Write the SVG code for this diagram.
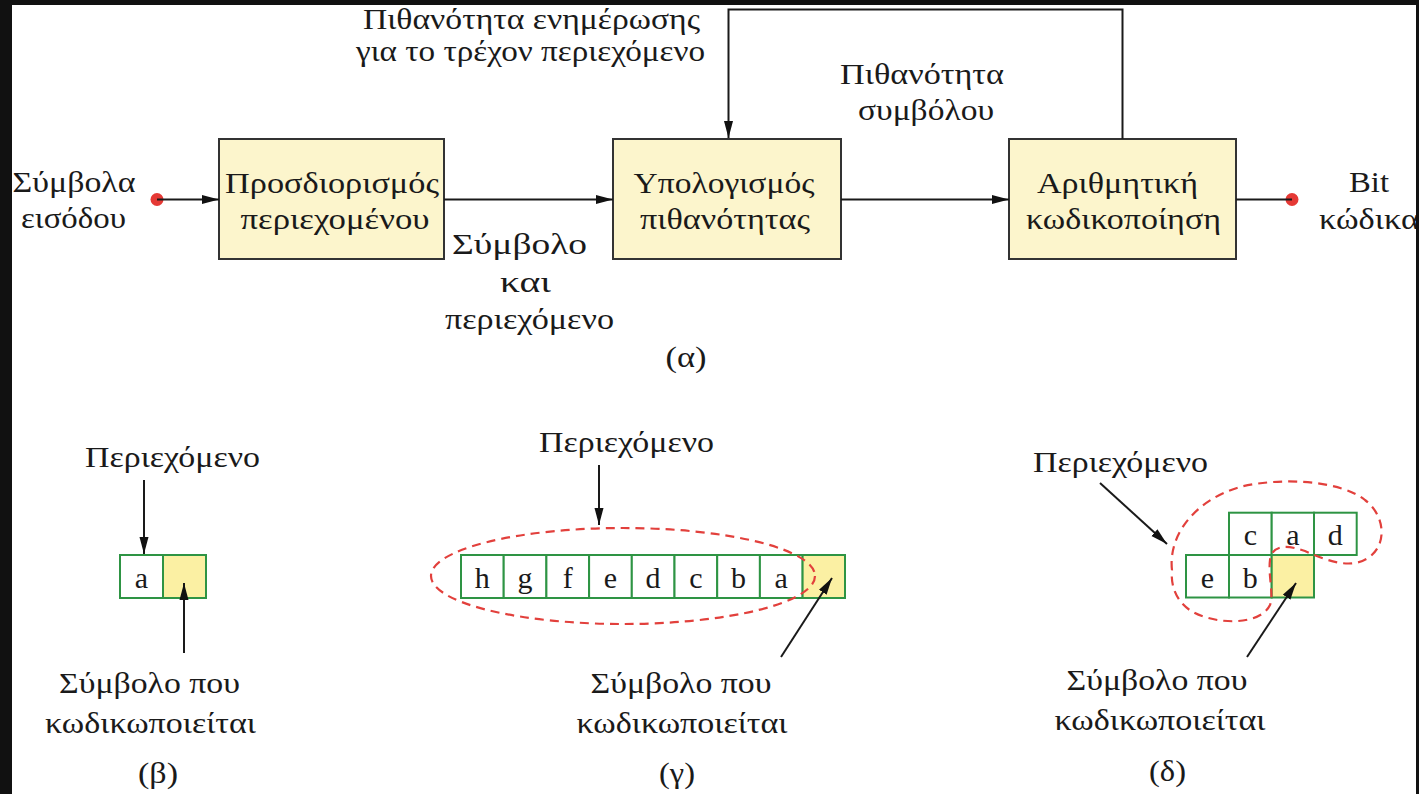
<svg xmlns="http://www.w3.org/2000/svg" width="1419" height="794" viewBox="0 0 1419 794">
  <defs>
    <marker id="arrow" markerUnits="userSpaceOnUse" markerWidth="18" markerHeight="10" refX="17" refY="5" orient="auto">
      <path d="M0,0.5 L17,5 L0,9.5 Z" fill="#111"/>
    </marker>
    <style>
      text { font-family: "Liberation Serif", "DejaVu Serif", serif; font-size: 30px; fill: #1a1a1a; }
      .c { text-anchor: middle; }
      .box { fill: #fcf5cc; stroke: #333; stroke-width: 2; }
      .wire { fill: none; stroke: #1a1a1a; stroke-width: 2; }
      .arrow { fill: none; stroke: #1a1a1a; stroke-width: 2; marker-end: url(#arrow); }
      .dot { fill: #e53935; }
      .cell { fill: #fff; stroke: #2e9444; stroke-width: 2; }
      .cur { fill: #fbf0a3; stroke: #2e9444; stroke-width: 2; }
      .ctx { fill: none; stroke: #e2403c; stroke-width: 2.2; stroke-dasharray: 9 6; }
    </style>
  </defs>

  <rect width="1419" height="794" fill="#fff"/>

  <!-- (α) block diagram -->
  <g id="input">
    <circle class="dot" cx="157" cy="199.5" r="6.5"/>
    <text class="c" x="74" y="192" textLength="123" lengthAdjust="spacingAndGlyphs">Σύμβολα</text>
    <text class="c" x="73.5" y="228" textLength="105" lengthAdjust="spacingAndGlyphs">εισόδου</text>
  </g>
  <g id="context-model">
    <rect class="box" x="219" y="139" width="225" height="120"/>
    <text class="c" x="332" y="193" textLength="214" lengthAdjust="spacingAndGlyphs">Προσδιορισμός</text>
    <text class="c" x="335" y="229" textLength="189" lengthAdjust="spacingAndGlyphs">περιεχομένου</text>
  </g>
  <g id="probability">
    <rect class="box" x="613" y="139" width="228" height="120"/>
    <text class="c" x="724" y="193" textLength="181" lengthAdjust="spacingAndGlyphs">Υπολογισμός</text>
    <text class="c" x="725" y="229" textLength="170" lengthAdjust="spacingAndGlyphs">πιθανότητας</text>
  </g>
  <g id="coder">
    <rect class="box" x="1009" y="139" width="227" height="120"/>
    <text class="c" x="1117.5" y="193" textLength="161" lengthAdjust="spacingAndGlyphs">Αριθμητική</text>
    <text class="c" x="1123.5" y="229" textLength="195" lengthAdjust="spacingAndGlyphs">κωδικοποίηση</text>
  </g>
  <g id="output">
    <circle class="dot" cx="1292" cy="199.5" r="6.5"/>
    <text class="c" x="1369" y="192" textLength="40" lengthAdjust="spacingAndGlyphs">Bit</text>
    <text x="1319" y="229" textLength="100" lengthAdjust="spacingAndGlyphs">κώδικα</text>
  </g>

  <g id="connectors">
    <line class="arrow" x1="157" y1="199.5" x2="219" y2="199.5"/>
    <line class="arrow" x1="444" y1="199.5" x2="613" y2="199.5"/>
    <line class="arrow" x1="841" y1="199.5" x2="1009" y2="199.5"/>
    <line class="wire" x1="1236" y1="199.5" x2="1292" y2="199.5"/>
    <polyline class="arrow" points="1122.5,139 1122.5,9.5 728.5,9.5 728.5,138"/>
  </g>

  <g id="labels-a">
    <text class="c" x="531.5" y="29" textLength="337" lengthAdjust="spacingAndGlyphs">Πιθανότητα ενημέρωσης</text>
    <text class="c" x="530.5" y="61" textLength="349" lengthAdjust="spacingAndGlyphs">για το τρέχον περιεχόμενο</text>
    <text class="c" x="922" y="84" textLength="164" lengthAdjust="spacingAndGlyphs">Πιθανότητα</text>
    <text class="c" x="926" y="120" textLength="136" lengthAdjust="spacingAndGlyphs">συμβόλου</text>
    <text class="c" x="519.5" y="254" textLength="135" lengthAdjust="spacingAndGlyphs">Σύμβολο</text>
    <text class="c" x="525.5" y="292" textLength="51" lengthAdjust="spacingAndGlyphs">και</text>
    <text class="c" x="529.5" y="329" textLength="169" lengthAdjust="spacingAndGlyphs">περιεχόμενο</text>
    <text class="c" x="686" y="367" textLength="41" lengthAdjust="spacingAndGlyphs">(α)</text>
  </g>

  <!-- (β) one-symbol context -->
  <g id="panel-b">
    <text class="c" x="172.5" y="467" textLength="175" lengthAdjust="spacingAndGlyphs">Περιεχόμενο</text>
    <line class="arrow" x1="144" y1="480" x2="144" y2="554"/>
    <rect class="cell" x="120" y="555" width="43" height="43"/>
    <rect class="cur" x="163" y="555" width="43" height="43"/>
    <text class="c" x="141.5" y="588">a</text>
    <line class="arrow" x1="184" y1="653" x2="184" y2="583"/>
    <text class="c" x="149.5" y="693" textLength="181" lengthAdjust="spacingAndGlyphs">Σύμβολο που</text>
    <text class="c" x="150.5" y="733" textLength="211" lengthAdjust="spacingAndGlyphs">κωδικωποιείται</text>
    <text class="c" x="158" y="783" textLength="40" lengthAdjust="spacingAndGlyphs">(β)</text>
  </g>

  <!-- (γ) long one-dimensional context -->
  <g id="panel-c">
    <text class="c" x="626.5" y="452" textLength="175" lengthAdjust="spacingAndGlyphs">Περιεχόμενο</text>
    <line class="arrow" x1="599" y1="465" x2="599" y2="525"/>
    <rect class="cell" x="461" y="555" width="42.7" height="43"/>
    <rect class="cell" x="503.7" y="555" width="42.7" height="43"/>
    <rect class="cell" x="546.4" y="555" width="42.7" height="43"/>
    <rect class="cell" x="589.1" y="555" width="42.7" height="43"/>
    <rect class="cell" x="631.8" y="555" width="42.7" height="43"/>
    <rect class="cell" x="674.5" y="555" width="42.7" height="43"/>
    <rect class="cell" x="717.2" y="555" width="42.7" height="43"/>
    <rect class="cell" x="759.9" y="555" width="42.7" height="43"/>
    <rect class="cur" x="802.6" y="555" width="42.4" height="43"/>
    <text class="c" x="482.3" y="588">h</text>
    <text class="c" x="525" y="588">g</text>
    <text class="c" x="567.7" y="588">f</text>
    <text class="c" x="610.4" y="588">e</text>
    <text class="c" x="653.1" y="588">d</text>
    <text class="c" x="695.8" y="588">c</text>
    <text class="c" x="738.5" y="588">b</text>
    <text class="c" x="781.2" y="588">a</text>
    <ellipse class="ctx" cx="623" cy="576" rx="192" ry="48"/>
    <line class="arrow" x1="781" y1="657" x2="832" y2="578"/>
    <text class="c" x="681" y="693" textLength="181" lengthAdjust="spacingAndGlyphs">Σύμβολο που</text>
    <text class="c" x="682" y="733" textLength="211" lengthAdjust="spacingAndGlyphs">κωδικωποιείται</text>
    <text class="c" x="677" y="783" textLength="36" lengthAdjust="spacingAndGlyphs">(γ)</text>
  </g>

  <!-- (δ) two-dimensional context -->
  <g id="panel-d">
    <text class="c" x="1120.5" y="472" textLength="175" lengthAdjust="spacingAndGlyphs">Περιεχόμενο</text>
    <line class="arrow" x1="1100" y1="483" x2="1167" y2="544"/>
    <rect class="cell" x="1229" y="512.7" width="42.7" height="42.3"/>
    <rect class="cell" x="1271.7" y="512.7" width="42.3" height="42.3"/>
    <rect class="cell" x="1314" y="512.7" width="42.7" height="42.3"/>
    <rect class="cell" x="1186" y="555" width="43" height="42.5"/>
    <rect class="cell" x="1229" y="555" width="42.7" height="42.5"/>
    <rect class="cur" x="1271.7" y="555" width="42.3" height="42.5"/>
    <text class="c" x="1250.3" y="545">c</text>
    <text class="c" x="1292.8" y="545">a</text>
    <text class="c" x="1335.3" y="545">d</text>
    <text class="c" x="1207.5" y="588">e</text>
    <text class="c" x="1250.3" y="588">b</text>
    <path class="ctx" d="M1172,570 C1168,535 1195,500 1240,487 C1280,477 1340,480 1365,500 C1385,515 1388,545 1368,558 C1350,570 1325,560 1305,551 C1288,545 1272,544 1270,560 C1268,575 1274,595 1270,605 C1262,622 1230,625 1205,617 C1180,610 1170,590 1172,570 Z"/>
    <line class="arrow" x1="1247" y1="657" x2="1296" y2="583"/>
    <text class="c" x="1157" y="690" textLength="181" lengthAdjust="spacingAndGlyphs">Σύμβολο που</text>
    <text class="c" x="1160" y="730" textLength="211" lengthAdjust="spacingAndGlyphs">κωδικωποιείται</text>
    <text class="c" x="1167.5" y="781" textLength="37" lengthAdjust="spacingAndGlyphs">(δ)</text>
  </g>

  <!-- dark frame along the top, left and right edges -->
  <g id="frame" fill="#111">
    <rect x="0" y="0" width="1419" height="5"/>
    <rect x="0" y="0" width="12" height="794"/>
    <rect x="1416" y="0" width="3" height="794"/>
  </g>
</svg>
